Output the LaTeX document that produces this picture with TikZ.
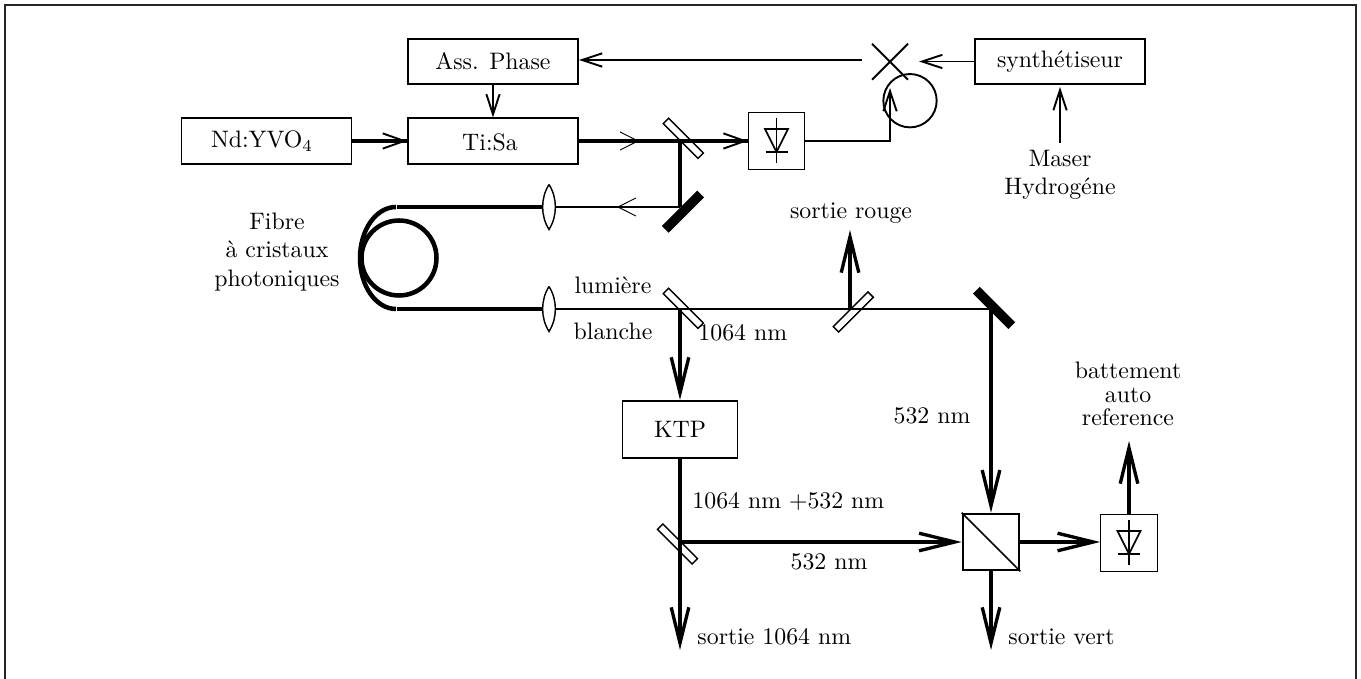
\documentclass[tikz,border=0pt]{standalone}
\usepackage{amsmath,amssymb}
\usetikzlibrary{positioning,arrows.meta,shapes.misc}

\begin{document}
\begin{tikzpicture}[x=0.42pt,y=-0.42pt,
box/.style={rectangle,draw,line width=0.8pt,align=center,minimum width=71.4pt,minimum height=19pt,inner sep=0pt},
detbox/.style={rectangle,draw,line width=0.4pt,minimum size=23.8pt,inner sep=0pt},
splitter/.style={rectangle,draw,line width=0.6pt,minimum width=20.6pt,minimum height=3.2pt,inner sep=0pt},
mirror/.style={rectangle,draw,fill=black,minimum width=20.6pt,minimum height=3.6pt,inner sep=0pt},
txt/.style={align=center,inner sep=0pt,font=\fontsize{10}{12}\selectfont},
elec/.style={line width=0.8pt,-{Straight Barb[length=8.5pt,width=5.6pt]}},
pump/.style={line width=0.8pt,-{Straight Barb[length=9pt,width=6.4pt]}},
beam/.style={line width=1.4pt,-{Straight Barb[length=15pt,width=7.4pt]}},
tiny/.style={line width=0.4pt,-{Straight Barb[length=7.5pt,width=7.6pt]}},
fibre/.style={line width=1.9pt},
pics/diode/.style={code={
\draw[line width=0.7pt] (0,-23)--(0,22) (-11,11)--(11,11);
\draw[line width=0.7pt] (-11.5,-12)--(11.5,-12)--(0,11)--cycle;}},
pics/lens/.style={code={
\draw[line width=0.6pt,fill=white] (0,-22.5) .. controls (-8.5,-9) and (-8.5,9) .. (0,22.5) .. controls (8.5,9) and (8.5,-9) .. (0,-22.5);}}]
\useasboundingbox (0,0) rectangle (1361,679);
\draw[line width=0.8pt,black!85] (5,679)--(5,5)--(1356,5)--(1356,679);

% boites
\node[box](phase) at (493,61.5){Ass. Phase};
\node[box](tisa) at (493,141){};
\node[box](yvo) at (266.5,141){};
\node[box](synth) at (1060,61.5){synth\'etiseur};
\node[box,minimum width=48.3pt,minimum height=24pt](ktp) at (680,429.5){KTP};
\node[detbox](deta) at (776.5,141){};
\node[detbox](detb) at (1129,543){};
\node[detbox,line width=0.8pt](cube) at (991,542){};
\draw[line width=0.7pt](cube.north west)--(cube.south east);
\pic at (776.5,141){diode};
\pic at (1129,543){diode};

% melangeur
\node[cross out,draw,line width=0.8pt,minimum size=14.3pt,inner sep=0pt](mix) at (890,61.7){};
\node[circle,draw,line width=0.8pt,minimum size=22.4pt,inner sep=0pt](osc) at (910,100.7){};
\coordinate (mixw) at (862,60);
\coordinate (mixe) at (919,61.5);
\coordinate (mixs) at (890,88);
\coordinate (maser) at (1060,143);
\coordinate (synths) at (1060,87);
\coordinate (bend) at (890,141);

% miroirs
\node[splitter,rotate=-45](bsa) at (683.3,138.3){};
\node[splitter,rotate=-45](bsb) at (683.3,308.3){};
\node[splitter,rotate=45](bsc) at (853.3,312){};
\node[splitter,rotate=-45](bsd) at (677.5,544){};
\node[mirror,rotate=45](ma) at (683,211.7){};
\node[mirror,rotate=-45](mb) at (994,308){};
\coordinate (ja) at (680,141);
\coordinate (jb) at (680,207);
\coordinate (jc) at (680,309);
\coordinate (jd) at (850,309);
\coordinate (je) at (991,309);
\coordinate (jf) at (680,542);
\coordinate (lensa) at (549,207);
\coordinate (lensb) at (549,309);
\coordinate (fibha) at (397,207);
\coordinate (fibhb) at (397,309);
\coordinate (outr) at (850,230);
\coordinate (outa) at (680,650);
\coordinate (outb) at (991,650);
\coordinate (outc) at (1129,441);

% electronique
\draw[elec](mixw)--(phase.east |- mixw);
\draw[elec](phase)--(tisa);
\draw[elec](synth.west)--(mixe);
\draw[elec](maser)--(synths);
\draw[elec](deta.east)--(bend)--(mixs);

% faisceaux
\draw[line width=1.5pt](yvo)--(tisa);
\draw[pump](385,141)--(tisa);
\draw[line width=1.5pt](tisa)--(ja);
\draw[tiny](622,141)--(639,141);
\draw[line width=1.5pt](ja)--(deta);
\draw[pump](727,141)--(deta);
\draw[line width=1.4pt](ja)--(jb);
\draw[line width=1.1pt](jb)--(lensa);
\draw[tiny](638,207)--(617,207);
\draw[fibre](fibha)--(lensa);
\draw[fibre](fibhb)--(lensb);
\draw[line width=1.1pt](lensb)--(je);
\draw[beam](jc)--(ktp);
\draw[beam](jd)--(outr);
\draw[beam](je)--(cube);
\draw[line width=1.4pt](ktp)--(jf);
\draw[beam](jf)--(cube);
\draw[beam](jf)--(outa);
\draw[beam](cube)--(outb);
\draw[beam](cube)--(detb.west |- cube);
\draw[beam](detb)--(outc);

% fibre
\draw[fibre](396,207) arc[start angle=270,end angle=90,x radius=36,y radius=51];
\draw[fibre](399,258) circle[radius=37.5];
\pic at (lensa){lens};
\pic at (lensb){lens};

% textes
\node[txt](nd) at (262,141){Nd:YVO$_4$};
\node[txt](ti) at (490,142){Ti:Sa};
\node[txt](fib) at (277,252){Fibre\\\`a cristaux\\photoniques};
\node[txt](has) at (1060,175){Maser\\Hydrog\'ene};
\node[txt](rouge) at (851,213){sortie rouge};
\node[txt](lum) at (613,285){lumi\`ere};
\node[txt](bla) at (613,331){blanche};
\node[txt,anchor=west](nmb) at (698,333){1064 nm};
\node[txt](nmc) at (932,416){532 nm};
\node[txt,font=\fontsize{10}{10}\selectfont](bat) at (1128,394){battement\\auto\\reference};
\node[txt,anchor=west](nmd) at (692,501){1064 nm +532 nm};
\node[txt](nme) at (829,562){532 nm};
\node[txt,anchor=west](sora) at (697,637){sortie 1064 nm};
\node[txt,anchor=west](sorb) at (1008,637){sortie vert};
\end{tikzpicture}
\end{document}
